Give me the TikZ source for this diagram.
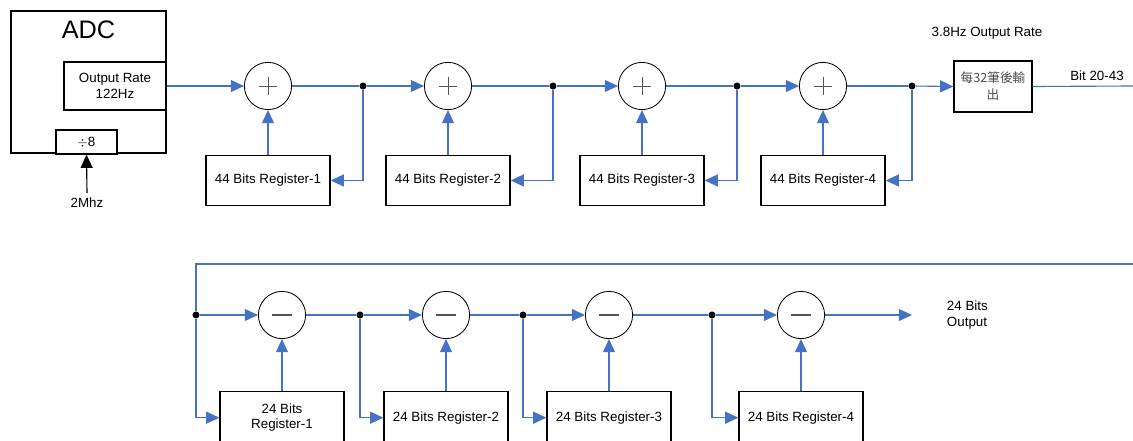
\documentclass[tikz,border=0pt]{standalone}
\usepackage{fontspec}
\setmainfont{Liberation Sans}
\newfontfamily\cjkfont{Noto Sans CJK TC}
\usepackage{tikz}
\usetikzlibrary{positioning,arrows.meta}
\definecolor{c_line}{RGB}{68,114,196}
\definecolor{c_sign}{RGB}{85,85,85}
\tikzset{c-box/.style={rectangle, draw=black, line width=0.9pt, fill=white, minimum width=3.1cm, minimum height=1.25cm, align=center, inner sep=1pt},
c-add/.style={circle, draw=black, line width=0.6pt, fill=white, minimum size=1.18cm, path picture={
\draw[c_sign, line width=0.5pt] ([xshift=-2.3mm]path picture bounding box.center) -- ([xshift=2.3mm]path picture bounding box.center)
([yshift=-2.3mm]path picture bounding box.center) -- ([yshift=2.3mm]path picture bounding box.center);}},
c-sub/.style={circle, draw=black, line width=0.6pt, fill=white, minimum size=1.18cm, path picture={
\draw[c_sign, line width=0.8pt] ([xshift=-2.5mm]path picture bounding box.center) -- ([xshift=2.5mm]path picture bounding box.center);}},
c-dot/.style={circle, fill=black, inner sep=0pt, minimum size=5pt},
wire/.style={c_line, line width=0.8pt},
arrow/.style={c_line, line width=0.8pt, -{Triangle[length=3.3mm,width=3mm]}}}

\begin{document}
\begin{tikzpicture}[x=0.025cm, y=-0.025cm, font=\fontsize{9.5}{11}\selectfont]
\clip (0,0) rectangle (1133,441);
% ADC block
\node (adc) [draw=black, line width=0.9pt, minimum width=3.875cm, minimum height=3.55cm,
label={[font=\fontsize{18}{20}\selectfont, anchor=north, yshift=-1.5mm]north:ADC}] at (88.5,82) {};
\node (rate) [c-box, minimum width=2.55cm, minimum height=1.2cm] at (115,86) {Output Rate\\122Hz};
\node (div) [c-box, minimum width=1.525cm, minimum height=0.6cm] at (86.5,142) {$\div$8};
\node (clk) at (87,203) {2Mhz};
\draw [arrow, black] (clk.north) -- (div.south);

% integrators
\node (a1) [c-add] at (268,86) {};
\node (a2) [c-add] at (448,86) {};
\node (a3) [c-add] at (642,86) {};
\node (a4) [c-add] at (823,86) {};
\node (j1) [c-dot] at (363,86) {};
\node (j2) [c-dot] at (553,86) {};
\node (j3) [c-dot] at (737,86) {};
\node (j4) [c-dot] at (912,86) {};
\node (r1) [c-box, below=1.12cm of a1] {44 Bits Register-1};
\node (r2) [c-box, below=1.12cm of a2] {44 Bits Register-2};
\node (r3) [c-box, below=1.12cm of a3] {44 Bits Register-3};
\node (r4) [c-box, below=1.12cm of a4] {44 Bits Register-4};
\node (outbox) [c-box, minimum width=1.95cm, minimum height=1.275cm, font=\cjkfont\fontsize{9}{12}\selectfont, text=black!70] at (993,86.5) {每32筆後輸\\出};
\node (orate) at (987,33) {3.8Hz Output Rate};
\node (bits) at (1097,76) {Bit 20-43};
\coordinate (e1) at (1133,86);

\draw [arrow] (rate.east) -- (a1.west);
\draw [wire] (a1.east) -- (j1);
\draw [arrow] (j1) -- (a2.west);
\draw [wire] (a2.east) -- (j2);
\draw [arrow] (j2) -- (a3.west);
\draw [wire] (a3.east) -- (j3);
\draw [arrow] (j3) -- (a4.west);
\draw [wire] (a4.east) -- (j4);
\draw [arrow] (j4) -- (outbox.west);
\draw [wire] (outbox.east) -- (e1);
\draw [arrow] (j1) |- (r1.east);
\draw [arrow] (j2) |- (r2.east);
\draw [arrow] (j3) |- (r3.east);
\draw [arrow] (j4) |- (r4.east);
\draw [arrow] (r1.north) -- (a1.south);
\draw [arrow] (r2.north) -- (a2.south);
\draw [arrow] (r3.north) -- (a3.south);
\draw [arrow] (r4.north) -- (a4.south);

% combs
\coordinate (c1) at (1133,264);
\coordinate (c2) at (196,264);
\node (k0) [c-dot] at (196,315) {};
\node (s1) [c-sub] at (282,315) {};
\node (s2) [c-sub] at (446,315) {};
\node (s3) [c-sub] at (609,315) {};
\node (s4) [c-sub] at (801,315) {};
\node (k1) [c-dot] at (360,315) {};
\node (k2) [c-dot] at (523,315) {};
\node (k3) [c-dot] at (712,315) {};
\node (b1) [c-box, minimum height=1.3cm, below=1.3cm of s1] {24 Bits\\Register-1};
\node (b2) [c-box, minimum height=1.3cm, below=1.3cm of s2] {24 Bits Register-2};
\node (b3) [c-box, minimum height=1.3cm, below=1.3cm of s3] {24 Bits Register-3};
\node (b4) [c-box, minimum height=1.3cm, below=1.3cm of s4] {24 Bits Register-4};
\coordinate (e2) at (912,315);
\node (out) [anchor=west, align=left] at (942,315) {24 Bits\\Output};

\draw [wire] (c1) -- (c2) -- (k0);
\draw [arrow] (k0) -- (s1.west);
\draw [wire] (s1.east) -- (k1);
\draw [arrow] (k1) -- (s2.west);
\draw [wire] (s2.east) -- (k2);
\draw [arrow] (k2) -- (s3.west);
\draw [wire] (s3.east) -- (k3);
\draw [arrow] (k3) -- (s4.west);
\draw [arrow] (s4.east) -- (e2);
\draw [arrow] (k0) |- (b1.west);
\draw [arrow] (k1) |- (b2.west);
\draw [arrow] (k2) |- (b3.west);
\draw [arrow] (k3) |- (b4.west);
\draw [arrow] (b1.north) -- (s1.south);
\draw [arrow] (b2.north) -- (s2.south);
\draw [arrow] (b3.north) -- (s3.south);
\draw [arrow] (b4.north) -- (s4.south);
\end{tikzpicture}
\end{document}
